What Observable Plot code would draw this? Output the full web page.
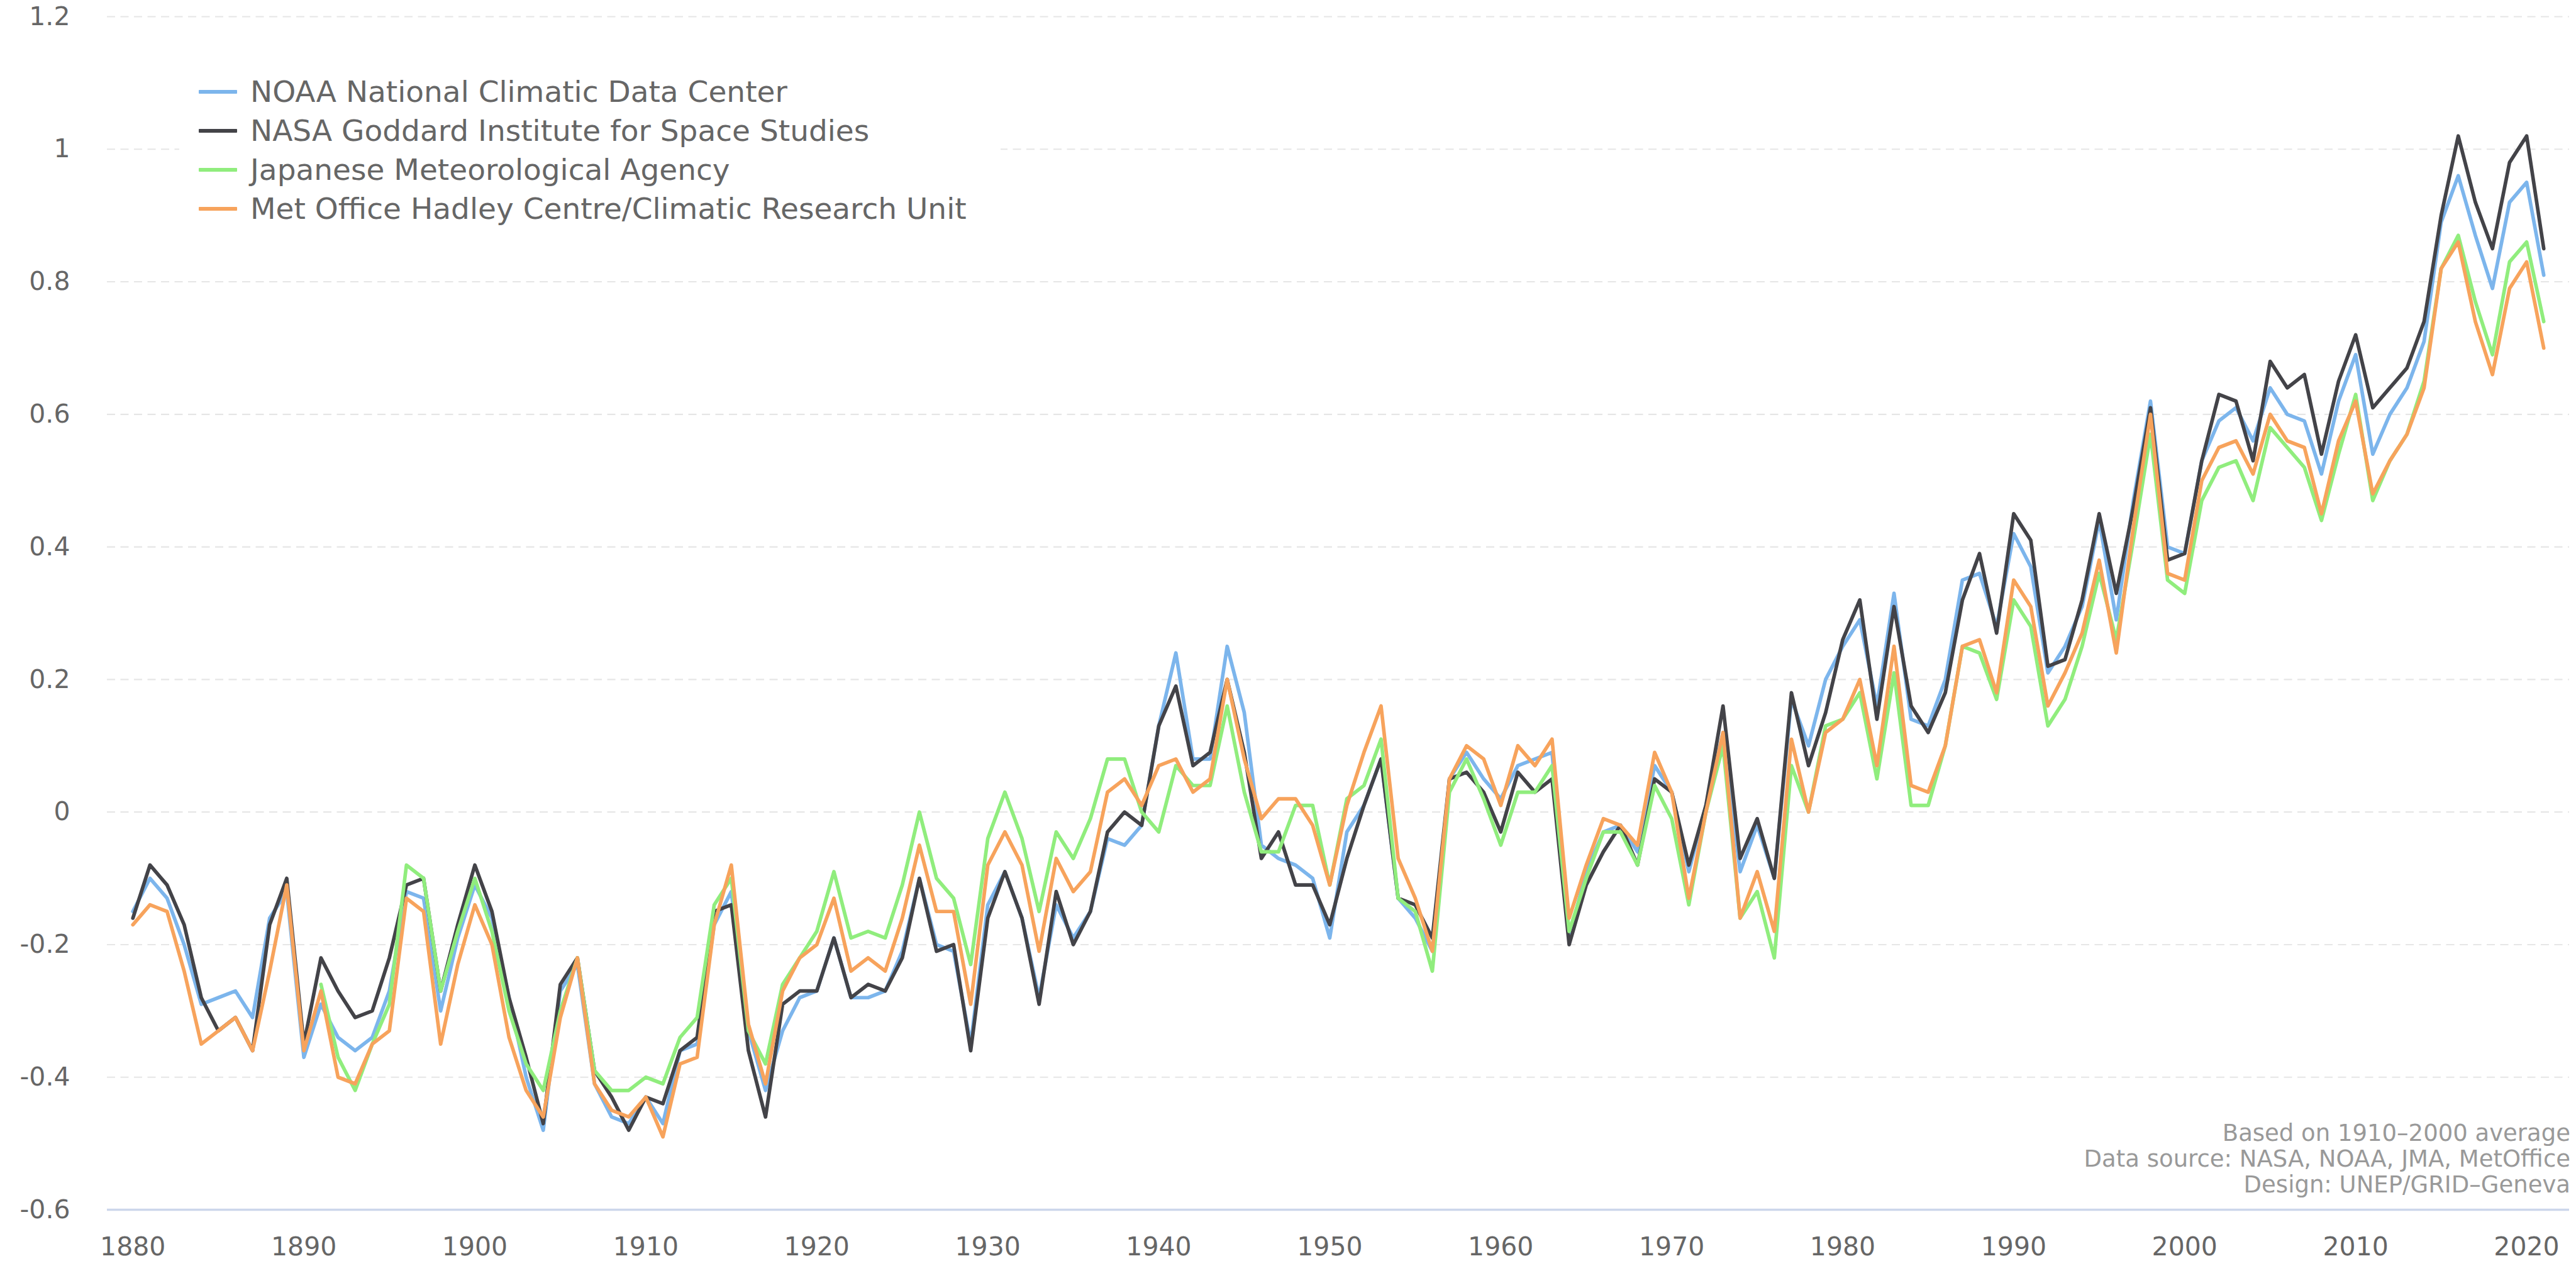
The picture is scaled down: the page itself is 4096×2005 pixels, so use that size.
<!DOCTYPE html>
<html>
<head>
<meta charset="utf-8">
<script src="https://cdn.jsdelivr.net/npm/d3@7"></script>
<script src="https://cdn.jsdelivr.net/npm/@observablehq/plot@0.6"></script>
<style>
  html, body { margin: 0; padding: 0; background: #fff; }
  #wrap { position: relative; width: 4096px; height: 2005px; overflow: hidden; font-family: "DejaVu Sans", sans-serif; }
  #legend { position: absolute; left: 285px; top: 115px; width: 1306px; background: #fff; }
  .row { display: flex; align-items: center; height: 62px; }
  .sw { width: 61px; height: 6px; margin-left: 31px; margin-right: 21px; border-radius: 1px; }
  .lab { font-size: 47px; color: #666; white-space: nowrap; line-height: 62px; }
  #caption { position: absolute; right: 9px; top: 1781px; text-align: right; font-size: 37px; line-height: 41px; color: #999; white-space: nowrap; }
</style>
</head>
<body>
<div id="wrap"></div>
<script>
// ---- data ----
const years = d3.range(1880, 2022);
const seriesNames = [
  "NOAA National Climatic Data Center",
  "NASA Goddard Institute for Space Studies",
  "Japanese Meteorological Agency",
  "Met Office Hadley Centre/Climatic Research Unit"
];
const seriesColors = ["#7cb5ec", "#434348", "#90ed7d", "#f7a35c"];

const noaa = [
  -0.15, -0.10, -0.13, -0.20, -0.29, -0.28, -0.27, -0.31, -0.16, -0.12,
  -0.37, -0.29, -0.34, -0.36, -0.34, -0.27, -0.12, -0.13, -0.30, -0.19,
  -0.11, -0.16, -0.28, -0.40, -0.48, -0.27, -0.23, -0.41, -0.46, -0.47,
  -0.43, -0.47, -0.36, -0.35, -0.17, -0.12, -0.33, -0.42, -0.33, -0.28,
  -0.27, -0.19, -0.28, -0.28, -0.27, -0.21, -0.10, -0.20, -0.21, -0.35,
  -0.14, -0.09, -0.16, -0.28, -0.14, -0.19, -0.15, -0.04, -0.05, -0.02,
  0.13, 0.24, 0.08, 0.08, 0.25, 0.15, -0.05, -0.07, -0.08, -0.10,
  -0.19, -0.03, 0.01, 0.08, -0.13, -0.16, -0.21, 0.05, 0.09, 0.05,
  0.02, 0.07, 0.08, 0.09, -0.19, -0.09, -0.03, -0.02, -0.06, 0.07,
  0.03, -0.09, 0.01, 0.12, -0.09, -0.02, -0.10, 0.17, 0.10, 0.20,
  0.25, 0.29, 0.16, 0.33, 0.14, 0.13, 0.20, 0.35, 0.36, 0.28,
  0.42, 0.37, 0.21, 0.25, 0.31, 0.44, 0.29, 0.47, 0.62, 0.40,
  0.39, 0.53, 0.59, 0.61, 0.56, 0.64, 0.60, 0.59, 0.51, 0.62,
  0.69, 0.54, 0.60, 0.64, 0.71, 0.89, 0.96, 0.87, 0.79, 0.92,
  0.95, 0.81
];
const nasa = [
  -0.16, -0.08, -0.11, -0.17, -0.28, -0.33, -0.31, -0.36, -0.17, -0.10,
  -0.35, -0.22, -0.27, -0.31, -0.30, -0.22, -0.11, -0.10, -0.27, -0.17,
  -0.08, -0.15, -0.28, -0.37, -0.47, -0.26, -0.22, -0.39, -0.43, -0.48,
  -0.43, -0.44, -0.36, -0.34, -0.15, -0.14, -0.36, -0.46, -0.29, -0.27,
  -0.27, -0.19, -0.28, -0.26, -0.27, -0.22, -0.10, -0.21, -0.20, -0.36,
  -0.16, -0.09, -0.16, -0.29, -0.12, -0.20, -0.15, -0.03, 0.00, -0.02,
  0.13, 0.19, 0.07, 0.09, 0.20, 0.09, -0.07, -0.03, -0.11, -0.11,
  -0.17, -0.07, 0.01, 0.08, -0.13, -0.14, -0.19, 0.05, 0.06, 0.03,
  -0.03, 0.06, 0.03, 0.05, -0.20, -0.11, -0.06, -0.02, -0.08, 0.05,
  0.03, -0.08, 0.01, 0.16, -0.07, -0.01, -0.10, 0.18, 0.07, 0.15,
  0.26, 0.32, 0.14, 0.31, 0.16, 0.12, 0.18, 0.32, 0.39, 0.27,
  0.45, 0.41, 0.22, 0.23, 0.32, 0.45, 0.33, 0.46, 0.61, 0.38,
  0.39, 0.53, 0.63, 0.62, 0.53, 0.68, 0.64, 0.66, 0.54, 0.65,
  0.72, 0.61, 0.64, 0.67, 0.74, 0.90, 1.02, 0.92, 0.85, 0.98,
  1.02, 0.85
];
const jma = [
  null, null, null, null, null, null, null, null, null, null,
  null, -0.26, -0.37, -0.42, -0.35, -0.29, -0.08, -0.10, -0.27, -0.18,
  -0.10, -0.18, -0.30, -0.38, -0.42, -0.30, -0.22, -0.39, -0.42, -0.42,
  -0.40, -0.41, -0.34, -0.31, -0.14, -0.10, -0.33, -0.38, -0.26, -0.22,
  -0.18, -0.09, -0.19, -0.18, -0.19, -0.11, 0.00, -0.10, -0.13, -0.23,
  -0.04, 0.03, -0.04, -0.15, -0.03, -0.07, -0.01, 0.08, 0.08, 0.00,
  -0.03, 0.07, 0.04, 0.04, 0.16, 0.03, -0.06, -0.06, 0.01, 0.01,
  -0.11, 0.02, 0.04, 0.11, -0.13, -0.15, -0.24, 0.03, 0.08, 0.02,
  -0.05, 0.03, 0.03, 0.07, -0.18, -0.10, -0.03, -0.03, -0.08, 0.04,
  -0.01, -0.14, 0.00, 0.10, -0.16, -0.12, -0.22, 0.07, 0.00, 0.13,
  0.14, 0.18, 0.05, 0.21, 0.01, 0.01, 0.10, 0.25, 0.24, 0.17,
  0.32, 0.28, 0.13, 0.17, 0.25, 0.36, 0.26, 0.41, 0.57, 0.35,
  0.33, 0.47, 0.52, 0.53, 0.47, 0.58, 0.55, 0.52, 0.44, 0.54,
  0.63, 0.47, 0.53, 0.57, 0.65, 0.82, 0.87, 0.77, 0.69, 0.83,
  0.86, 0.74
];
const hadcru = [
  -0.17, -0.14, -0.15, -0.24, -0.35, -0.33, -0.31, -0.36, -0.24, -0.11,
  -0.36, -0.27, -0.40, -0.41, -0.35, -0.33, -0.13, -0.15, -0.35, -0.23,
  -0.14, -0.20, -0.34, -0.42, -0.46, -0.31, -0.22, -0.41, -0.45, -0.46,
  -0.43, -0.49, -0.38, -0.37, -0.17, -0.08, -0.32, -0.41, -0.27, -0.22,
  -0.20, -0.13, -0.24, -0.22, -0.24, -0.16, -0.05, -0.15, -0.15, -0.29,
  -0.08, -0.03, -0.08, -0.21, -0.07, -0.12, -0.09, 0.03, 0.05, 0.01,
  0.07, 0.08, 0.03, 0.05, 0.20, 0.08, -0.01, 0.02, 0.02, -0.02,
  -0.11, 0.01, 0.09, 0.16, -0.07, -0.13, -0.21, 0.05, 0.10, 0.08,
  0.01, 0.10, 0.07, 0.11, -0.16, -0.08, -0.01, -0.02, -0.05, 0.09,
  0.03, -0.13, 0.00, 0.12, -0.16, -0.09, -0.18, 0.11, 0.00, 0.12,
  0.14, 0.20, 0.07, 0.25, 0.04, 0.03, 0.10, 0.25, 0.26, 0.18,
  0.35, 0.31, 0.16, 0.21, 0.27, 0.38, 0.24, 0.43, 0.60, 0.36,
  0.35, 0.50, 0.55, 0.56, 0.51, 0.60, 0.56, 0.55, 0.45, 0.56,
  0.62, 0.48, 0.53, 0.57, 0.64, 0.82, 0.86, 0.74, 0.66, 0.79,
  0.83, 0.70
];
const xTicks = [1880, 1890, 1900, 1910, 1920, 1930, 1940, 1950, 1960, 1970, 1980, 1990, 2000, 2010, 2020];
const yTicks = [-0.6, -0.4, -0.2, 0, 0.2, 0.4, 0.6, 0.8, 1, 1.2];
const captionLines = ["Based on 1910–2000 average", "Data source: NASA, NOAA, JMA, MetOffice", "Design: UNEP/GRID–Geneva"];

// ---- build ----
const allSeries = [noaa, nasa, jma, hadcru];
const tables = allSeries.map((vals, i) =>
  years.map((yr, j) => ({ year: yr, value: vals[j] == null ? NaN : vals[j], series: seriesNames[i] }))
);

const fmtY = d => { const v = Math.round(d * 10) / 10; return v === 0 ? "0" : String(v); };

const chart = Plot.plot({
  width: 4096,
  height: 2005,
  marginTop: 26,
  marginBottom: 82,
  marginLeft: 170,
  marginRight: 11,
  style: { fontFamily: "DejaVu Sans, sans-serif", fontSize: "41px", color: "#666", background: "#fff" },
  x: { domain: [1878.5, 2022.5] },
  y: { domain: [-0.6, 1.2] },
  color: { domain: seriesNames, range: seriesColors },
  marks: [
    Plot.gridY(yTicks.filter(t => t > -0.6), { stroke: "#e6e6e6", strokeOpacity: 1, strokeWidth: 2.1, strokeDasharray: "13,8.5" }),
    Plot.axisY(yTicks, { tickSize: 0, tickPadding: 59, tickFormat: fmtY, fontSize: 41, fill: "#666", label: null }),
    Plot.axisX(xTicks, { tickSize: 0, tickPadding: 43, tickFormat: d => String(d), fontSize: 41, fill: "#666", label: null }),
    Plot.ruleY([-0.6], { stroke: "#ccd6eb", strokeWidth: 3.5 }),
    ...tables.map((t, i) => Plot.line(t, {
      x: "year", y: "value", stroke: "series",
      strokeWidth: 5.7, strokeLinejoin: "round", strokeLinecap: "round"
    }))
  ]
});

const wrap = document.getElementById("wrap");
wrap.appendChild(chart);

// legend
const legend = document.createElement("div");
legend.id = "legend";
seriesNames.forEach((name, i) => {
  const row = document.createElement("div");
  row.className = "row";
  const sw = document.createElement("div");
  sw.className = "sw";
  sw.style.background = seriesColors[i];
  const lab = document.createElement("div");
  lab.className = "lab";
  lab.textContent = name;
  row.appendChild(sw);
  row.appendChild(lab);
  legend.appendChild(row);
});
wrap.appendChild(legend);

// caption
const cap = document.createElement("div");
cap.id = "caption";
captionLines.forEach(t => { const d = document.createElement("div"); d.textContent = t; cap.appendChild(d); });
wrap.appendChild(cap);
</script>
</body>
</html>
